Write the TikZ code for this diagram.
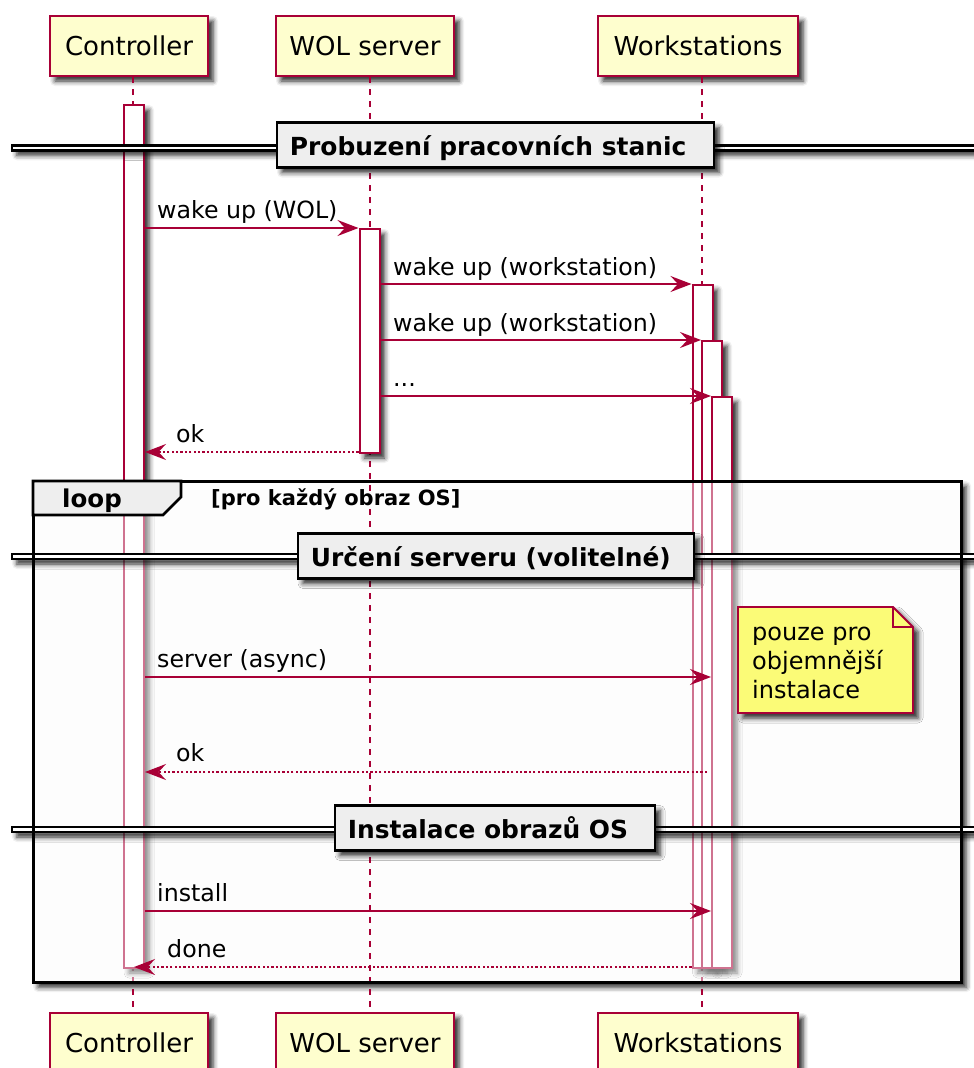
\documentclass[tikz,border=0pt]{standalone}
\usepackage{fontspec}
\setmainfont{DejaVu Sans}
\usetikzlibrary{arrows.meta,shadows.blur}

\definecolor{crim}{HTML}{A80036}
\definecolor{partfill}{HTML}{FEFECE}
\definecolor{notefill}{HTML}{FBFB77}
\definecolor{grpfill}{HTML}{EEEEEE}
\definecolor{loopfill}{HTML}{FDFDFD}

\tikzset{
  shade4/.style={blur shadow={shadow xshift=5pt, shadow yshift=-5pt,
      shadow blur radius=5pt, shadow opacity=85}},
  participant/.style={draw=crim, line width=2pt, fill=partfill,
      minimum height=60pt, inner sep=0pt,
      font=\fontsize{26pt}{31pt}\selectfont, shade4},
  lifeline/.style={draw=crim, line width=1.5pt, dash pattern=on 6pt off 6pt},
  actbar/.style={draw=crim, line width=2pt, fill=white, minimum width=20pt,
      inner sep=0pt, anchor=north, shade4},
  msg/.style={draw=crim, line width=1.6pt,
      -{Stealth[length=21pt,width=16pt,inset=7.5pt]}},
  reply/.style={msg, dash pattern=on 2.2pt off 2.2pt},
  msglabel/.style={anchor=base west, inner sep=0pt,
      font=\fontsize{23.7pt}{28pt}\selectfont},
  divline/.style={draw=black, line width=2.4pt, fill=white, shade4},
  divbox/.style={draw=black, line width=2.6pt, fill=grpfill, inner sep=0pt,
      minimum height=45pt, shade4},
  divlabel/.style={anchor=base west, inner sep=0pt,
      font=\fontsize{24.9pt}{29pt}\selectfont\bfseries},
  notelabel/.style={anchor=base west, inner sep=0pt,
      font=\fontsize{24pt}{29pt}\selectfont},
}

\begin{document}
\begin{tikzpicture}[x=1pt,y=-1pt]
\useasboundingbox (0,0) rectangle (974,1068);
\clip (0,0) rectangle (974,1068);

% message rows
\coordinate (r1) at (0,228);
\coordinate (r2) at (0,284);
\coordinate (r3) at (0,340);
\coordinate (r4) at (0,396);
\coordinate (r5) at (0,452);
\coordinate (r6) at (0,677);
\coordinate (r7) at (0,772);
\coordinate (r8) at (0,911);
\coordinate (r9) at (0,967);

% loop fragment background
\node[fill=loopfill, minimum width=928pt, minimum height=501pt, inner sep=0pt,
      anchor=north west, shade4] (loop) at (33,481) {};

% participants, top and bottom
\node[participant, minimum width=158pt] (pCt) at (129,46) {Controller};
\node[participant, minimum width=178pt] (pWt) at (365,46) {WOL server};
\node[participant, minimum width=200pt] (pSt) at (698,46) {Workstations};
\node[participant, minimum width=158pt] (pCb) at (129,1043) {Controller};
\node[participant, minimum width=178pt] (pWb) at (365,1043) {WOL server};
\node[participant, minimum width=200pt] (pSb) at (698,1043) {Workstations};

% lifelines
\draw[lifeline] ([xshift=4pt]pCt.south) -- ([xshift=4pt]pCb.north);
\draw[lifeline] ([xshift=4pt]pSt.south) -- ([xshift=4pt]pSb.north);

% activations
\node[actbar, minimum height=863pt] (aC)  at (134,104) {};
\node[actbar, minimum height=683pt] (aS1) at (702.5,284) {};
\node[actbar, minimum height=627pt] (aS2) at (712,340) {};
\node[actbar, minimum height=571pt] (aS3) at (722,396) {};

% the loop fragment veils what lies beneath it
\fill[white, opacity=0.45] (loop.north west) rectangle (loop.south east);

\draw[lifeline] ([xshift=5pt]pWt.south) -- ([xshift=5pt]pWb.north);
\node[actbar, minimum height=224pt] (aW) at (369.5,228) {};

% dividers
\path[divline] (12,145.3) rectangle (990,150.3);
\node[divbox, minimum width=437pt] (d1) at (495.5,145) {};
\node[divlabel] (d1t) at ([shift={(14pt,-10pt)}]d1.west) {Probuzení pracovních stanic};

\path[divline] (12,554) rectangle (990,559);
\node[divbox, minimum width=396pt] (d2) at (496,556) {};
\node[divlabel] (d2t) at ([shift={(14pt,-10pt)}]d2.west) {Určení serveru (volitelné)};

\path[divline] (12,827) rectangle (990,832);
\node[divbox, minimum width=320pt] (d3) at (495,828) {};
\node[divlabel] (d3t) at ([shift={(14pt,-10pt)}]d3.west) {Instalace obrazů OS};

% messages
\draw[msg]   (aC.east |- r1) -- (aW.west |- r1);
\draw[msg]   (aW.east |- r2) -- (aS1.west |- r2);
\draw[msg]   (aW.east |- r3) -- (aS2.west |- r3);
\draw[msg]   (aW.east |- r4) -- (aS3.west |- r4);
\draw[reply] (aW.west |- r5) -- (aC.east |- r5);
\draw[msg]   (aC.east |- r6) -- (aS3.west |- r6);
\coordinate (okfrom) at (707,772);
\draw[reply] (okfrom) -- (aC.east |- r7);
\draw[msg]   (aC.east |- r8) -- (aS3.west |- r8);
\draw[reply] (aS1.west |- r9) -- (aC.center |- r9);

\node[msglabel] (l1) at (157,218) {wake up (WOL)};
\node[msglabel] (l2) at (393,275) {wake up (workstation)};
\node[msglabel] (l3) at (393,331) {wake up (workstation)};
\node[msglabel] (l4) at (393,386) {...};
\node[msglabel] (l5) at (176,442) {ok};
\node[msglabel] (l6) at (157,667) {server (async)};
\node[msglabel] (l7) at (176,761) {ok};
\node[msglabel] (l8) at (157,901) {install};
\node[msglabel] (l9) at (167,957) {done};

% note
\draw[draw=crim, line width=1.8pt, fill=notefill, shade4]
  (738,607) -- (893,607) -- (913,627) -- (913,713) -- (738,713) -- cycle;
\draw[draw=crim, line width=1.8pt] (893,607) -- (893,627) -- (913,627);
\node[notelabel] (n1) at (752,640) {pouze pro};
\node[notelabel] (n2) at (752,669) {objemnější};
\node[notelabel] (n3) at (752,698) {instalace};

% loop frame and its header
\draw[line width=3pt] (loop.north west) rectangle (loop.south east);
\draw[line width=2.6pt, fill=grpfill, line join=miter]
  (loop.north west) -- ++(148,0) -- ++(0,16) -- ++(-18,18) -- (33,515) -- cycle;
\node[anchor=base, inner sep=0pt, font=\fontsize{24.5pt}{29pt}\selectfont\bfseries]
  (looptxt) at (92,507) {loop};
\node[anchor=base west, inner sep=0pt, font=\fontsize{21pt}{25pt}\selectfont\bfseries]
  (loopcond) at (211,505) {[pro každý obraz OS]};
\end{tikzpicture}
\end{document}
